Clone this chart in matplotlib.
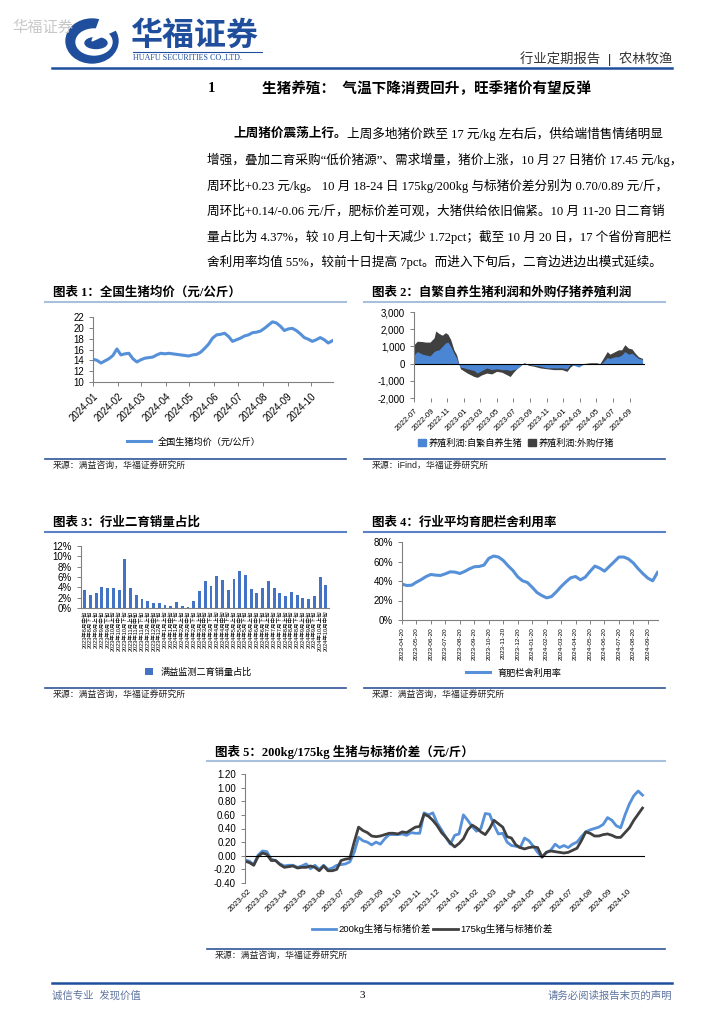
import matplotlib
matplotlib.use('Agg')
import matplotlib.pyplot as plt
import matplotlib.dates as mdates
from matplotlib.lines import Line2D
from matplotlib.patches import Ellipse, Wedge, Patch
from matplotlib.ticker import FuncFormatter, PercentFormatter
import numpy as np
import pandas as pd

plt.rcParams['font.family'] = ['Liberation Sans', 'Noto Sans CJK SC', 'DejaVu Sans']
plt.rcParams['axes.unicode_minus'] = False

########################################
#               Data                   #
########################################

# chart 1: national average hog price, every 5 days from 2024-01-01
pig_price = [14.2, 14.0, 13.5, 13.9, 14.3, 14.9, 16.1, 15.0, 15.2, 15.3,
             14.3, 13.7, 14.1, 14.4, 14.5, 14.6, 15.0, 15.3, 15.2, 15.3,
             15.2, 15.1, 15.0, 14.9, 14.8, 15.0, 15.1, 15.5, 16.2, 17.0,
             18.1, 18.7, 18.8, 19.0, 18.4, 17.5, 17.8, 18.1, 18.5, 18.7,
             19.1, 19.2, 19.4, 19.9, 20.5, 21.1, 20.9, 20.3, 19.5, 19.8,
             19.9, 19.5, 18.9, 18.2, 17.9, 17.5, 17.8, 18.2, 17.8, 17.2, 17.6]

# chart 2: breeding profit (yuan/head)
profit_dates = ['2022-07-01', '2022-07-13', '2022-08-01', '2022-08-13', '2022-08-29',
                '2022-09-13', '2022-09-19', '2022-10-01', '2022-10-13', '2022-10-25',
                '2022-11-03', '2022-11-13', '2022-11-25', '2022-12-05', '2022-12-13',
                '2022-12-19', '2023-01-13', '2023-02-07', '2023-02-19', '2023-03-08',
                '2023-03-26', '2023-04-13', '2023-05-01', '2023-05-20', '2023-06-08',
                '2023-06-20', '2023-07-02', '2023-07-14', '2023-08-02', '2023-08-10',
                '2023-08-27', '2023-09-14', '2023-10-08', '2023-11-02', '2023-11-27',
                '2023-12-27', '2024-01-15', '2024-01-27', '2024-02-09', '2024-02-27',
                '2024-03-15', '2024-04-09', '2024-05-03', '2024-05-15', '2024-05-27',
                '2024-06-11', '2024-06-21', '2024-07-10', '2024-07-22', '2024-08-03',
                '2024-08-15', '2024-08-28', '2024-09-10', '2024-09-22', '2024-10-04',
                '2024-10-19']
profit_self = [500, 700, 550, 500, 450, 700, 750, 800, 1000, 1200,
               1250, 1000, 600, 300, -50, -200, -300, -400, -550, -400,
               -250, -350, -300, -350, -350, -400, -350, -300, -50, 50,
               -50, -100, -150, -250, -250, -250, -300, -50, -100, -200,
               -50, 0, 0, -50, 100, 350, 300, 400, 400, 500,
               700, 550, 600, 450, 300, 250]
profit_buy = [1100, 1300, 1280, 1250, 1250, 1500, 1900, 1750, 1650, 1800,
              1700, 1400, 800, 500, 0, -300, -550, -750, -800, -650,
              -550, -600, -450, -500, -650, -750, -500, -300, -50, 50,
              -100, -150, -250, -300, -350, -350, -450, -200, -50, -100,
              0, 50, 50, 0, 300, 700, 550, 700, 800, 800,
              1100, 900, 850, 600, 400, 300]

# chart 3: share of secondary fattening sales, 10-day periods (%)
resale_share = [3.5, 2.6, 2.9, 4.1, 3.8, 3.9, 3.4, 9.5, 3.9, 2.6,
                1.8, 1.3, 1.0, 1.0, 0.6, 0.45, 1.15, 0.45, 0.15, 1.4,
                3.2, 5.3, 4.3, 6.2, 5.4, 3.4, 5.6, 7.2, 6.4, 3.7,
                3.0, 3.8, 5.3, 3.8, 2.9, 2.3, 3.1, 2.6, 1.9, 1.8,
                2.4, 6.09, 4.37]
xun = ['上旬', '中旬', '下旬']
resale_labels = []
for i in range(len(resale_share)):
    k = i + 1  # first bar is 2023年8月中旬
    month = 8 + k // 3
    year = 2023 + (month - 1) // 12
    month = (month - 1) % 12 + 1
    resale_labels.append(f'{year}年{month}月{xun[k % 3]}')

# chart 4: fattening pen utilisation (%), 10-day points from 2023-04-20
pen_util = [36.7, 35.4, 35.7, 38.8, 41.5, 44.6, 46.7, 46.0, 45.7, 47.4,
            49.4, 49.1, 47.7, 49.8, 52.5, 54.6, 54.9, 56.3, 63.2, 65.6,
            64.6, 61.1, 55.6, 50.8, 44.3, 40.2, 38.5, 33.6, 28.2, 25.1,
            22.7, 24.0, 28.8, 34.3, 39.1, 43.3, 44.6, 41.2, 43.9, 49.8,
            55.3, 53.2, 50.1, 54.9, 59.7, 64.6, 64.6, 62.5, 58.4, 52.5,
            47.4, 42.9, 40.2, 48.8]
pen_ticklabels = ['2023-04-20', '2023-05-20', '2023-06-20', '2023-07-20', '2023-08-20',
                  '2023-09-20', '2023-10-20', '2023-11-20', '2023-12-20', '2024-01-20',
                  '2024-02-20', '2024-03-20', '2024-04-20', '2024-05-20', '2024-06-20',
                  '2024-07-20', '2024-08-20', '2024-09-20']

# chart 5: weekly fat/standard hog spread (yuan/jin) from 2023-01-27
spread_200 = [-0.06, -0.08, -0.13, 0.01, 0.07, 0.06, -0.05, -0.07, -0.12, -0.15,
              -0.14, -0.14, -0.17, -0.15, -0.12, -0.19, -0.14, -0.20, -0.14, -0.20,
              -0.18, -0.14, -0.13, -0.12, -0.09, 0.05, 0.27, 0.22, 0.20, 0.16,
              0.20, 0.17, 0.25, 0.31, 0.31, 0.31, 0.32, 0.30, 0.34, 0.33,
              0.33, 0.63, 0.60, 0.63, 0.48, 0.38, 0.27, 0.17, 0.30, 0.32,
              0.60, 0.52, 0.43, 0.36, 0.40, 0.62, 0.61, 0.45, 0.32, 0.33,
              0.20, 0.15, 0.14, 0.12, 0.26, 0.22, 0.14, 0.05, -0.02, 0.05,
              0.08, 0.17, 0.12, 0.15, 0.12, 0.17, 0.20, 0.28, 0.35, 0.38,
              0.40, 0.42, 0.46, 0.56, 0.52, 0.44, 0.41, 0.60, 0.76, 0.88,
              0.95, 0.89]
spread_175 = [-0.08, -0.10, -0.14, -0.01, 0.04, 0.02, -0.07, -0.07, -0.13, -0.17,
              -0.16, -0.15, -0.18, -0.17, -0.17, -0.15, -0.17, -0.22, -0.15, -0.22,
              -0.22, -0.20, -0.07, -0.05, -0.04, 0.20, 0.42, 0.37, 0.34, 0.29,
              0.28, 0.29, 0.31, 0.33, 0.33, 0.32, 0.35, 0.34, 0.38, 0.42,
              0.43, 0.61, 0.58, 0.52, 0.44, 0.34, 0.27, 0.19, 0.13, 0.18,
              0.25, 0.38, 0.45, 0.41, 0.35, 0.31, 0.40, 0.52, 0.47, 0.42,
              0.28, 0.26, 0.16, 0.12, 0.10, 0.12, 0.13, 0.12, -0.02, 0.05,
              0.07, 0.06, 0.05, 0.04, 0.05, 0.08, 0.11, 0.22, 0.35, 0.33,
              0.29, 0.29, 0.31, 0.32, 0.30, 0.27, 0.27, 0.34, 0.41, 0.52,
              0.61, 0.70]

body_lines = [
    '增强，叠加二育采购“低价猪源”、需求增量，猪价上涨，10 月 27 日猪价 17.45 元/kg，',
    '周环比+0.23 元/kg。 10 月 18-24 日 175kg/200kg 与标猪价差分别为 0.70/0.89 元/斤，',
    '周环比+0.14/-0.06 元/斤，肥标价差可观，大猪供给依旧偏紧。10 月 11-20 日二育销',
    '量占比为 4.37%，较 10 月上旬十天减少 1.72pct；截至 10 月 20 日，17 个省份育肥栏',
    '舍利用率均值 55%，较前十日提高 7pct。而进入下旬后，二育边进边出模式延续。',
]

########################################
#              Helpers                 #
########################################

W, H = 724, 1024
NAVY = '#1f4e9c'
BLUE = '#5590d8'
AREA_BLUE = '#4a86d4'
DARK = '#404040'
BAR_BLUE = '#4472c4'
LIGHT_RULE = '#a9bfdc'
MID_RULE = '#5a82c4'
SRC_RULE = '#2f5597'
SERIF_CJK = ['Liberation Serif', 'Noto Sans CJK SC']
BODY_FS = 9.1

fig = plt.figure(figsize=(W / 100, H / 100), dpi=100)


def put(x, y, s, **kw):
    return fig.text(x / W, 1 - y / H, s, **kw)


def rule(x0, x1, y, color, lw):
    fig.add_artist(Line2D([x0 / W, x1 / W], [1 - y / H] * 2, color=color, lw=lw,
                          transform=fig.transFigure))


def axes_px(l, t, r, b):
    return fig.add_axes([l / W, 1 - b / H, (r - l) / W, (b - t) / H])


def style_axes(ax):
    for s in ['top', 'right']:
        ax.spines[s].set_visible(False)
    for s in ['left', 'bottom']:
        ax.spines[s].set_color('#808080')
        ax.spines[s].set_linewidth(0.8)
    ax.tick_params(colors='#808080', labelcolor='black', width=0.7, length=3)


def chart_frame(x0, x1, title, y_title, y_rule, rule_color, src, y_src_rule):
    put(x0 + 8, y_title, title, fontsize=9, fontweight='bold', family=SERIF_CJK,
        va='center')
    rule(x0, x1, y_rule, rule_color, 1.5)
    rule(x0, x1, y_src_rule, SRC_RULE, 1.2)
    put(x0 + 8, y_src_rule + 6.5, src, fontsize=6.4, va='center', color='#222222')


########################################
#               Header                 #
########################################

put(12, 28, '华福证券', fontsize=11, color='#c8c8c8', va='center')

lax = axes_px(62, 16, 122, 66)
lax.set_xlim(0, 60)
lax.set_ylim(0, 50)
lax.axis('off')
lax.add_patch(Ellipse((30, 25), 52, 44, color=NAVY))
lax.add_patch(Ellipse((32, 24), 36, 26, color='white'))
lax.add_patch(Ellipse((34, 23), 22, 11, color=NAVY))
lax.add_patch(Wedge((30, 25), 34, 25, 70, color='white'))

put(130, 37, '华福证券', fontsize=23, fontweight='bold', color=NAVY, va='center')
rule(133, 262, 52, NAVY, 0.8)
put(133, 58, 'HUAFU SECURITIES CO.,LTD.', fontsize=5.8, color=NAVY, va='center',
    family='Liberation Serif')
put(672, 59, '行业定期报告  |  农林牧渔', fontsize=9.6, color='#333333', ha='right', va='center')
rule(52, 672, 68, NAVY, 1.8)

put(208, 89, '1', fontsize=10.5, fontweight='bold', family=SERIF_CJK, va='center')
put(262, 89, '生猪养殖：  气温下降消费回升，旺季猪价有望反弹', fontsize=10.5,
    fontweight='bold', family=SERIF_CJK, va='center')

# body paragraph
r = fig.canvas.get_renderer()
b = put(233, 134, '上周猪价震荡上行。', fontsize=BODY_FS, fontweight='bold',
        family=SERIF_CJK, va='center')
bx = b.get_window_extent(renderer=r).x1
fig.text(bx / W, 1 - 134 / H, '上周多地猪价跌至 17 元/kg 左右后，供给端惜售情绪明显',
         fontsize=BODY_FS, family=SERIF_CJK, va='center')
for i, line in enumerate(body_lines):
    put(207, 160 + i * 25.6, line, fontsize=BODY_FS, family=SERIF_CJK, va='center')

########################################
#     Chart 1: national hog price      #
########################################

chart_frame(45, 346, '图表 1：全国生猪均价（元/公斤）', 293, 302, LIGHT_RULE,
            '来源：满益咨询，华福证券研究所', 459)
ax1 = axes_px(93, 317, 333, 382)
price_dates = pd.date_range('2024-01-01', periods=len(pig_price), freq='5D')
ax1.plot(price_dates, pig_price, color=BLUE, lw=2.2, label='全国生猪均价（元/公斤）')
ax1.set_ylim(10, 22)
ax1.set_yticks(np.arange(10, 23, 2))
ax1.set_xlim(pd.Timestamp('2024-01-01'), pd.Timestamp('2024-10-28'))
ax1.xaxis.set_major_locator(mdates.MonthLocator())
ax1.xaxis.set_major_formatter(mdates.DateFormatter('%Y-%m'))
style_axes(ax1)
ax1.tick_params(labelsize=7)
for lab in ax1.get_xticklabels():
    lab.set_rotation(45)
    lab.set_ha('right')
    lab.set_rotation_mode('anchor')
ax1.legend(loc='center', bbox_to_anchor=(194 / W, 1 - 442 / H), bbox_transform=fig.transFigure,
           frameon=False, fontsize=6.6, handlelength=2.6)

########################################
#      Chart 2: breeding profit        #
########################################

chart_frame(364, 665, '图表 2：自繁自养生猪利润和外购仔猪养殖利润', 293, 302, LIGHT_RULE,
            '来源：iFind，华福证券研究所', 459)
ax2 = axes_px(414, 312, 645, 398)
pd2 = pd.to_datetime(profit_dates)
ax2.fill_between(pd2, 0, profit_buy, color=DARK, lw=0)
ax2.fill_between(pd2, 0, profit_self, color=AREA_BLUE, lw=0)
ax2.axhline(0, color='black', lw=0.8)
ax2.set_ylim(-2000, 3000)
ax2.set_yticks(np.arange(-2000, 3001, 1000))
ax2.yaxis.set_major_formatter(FuncFormatter(lambda v, p: f'{v:,.0f}'))
ax2.set_xlim(pd.Timestamp('2022-07-01'), pd.Timestamp('2024-10-28'))
ax2.xaxis.set_major_locator(mdates.MonthLocator(bymonth=[1, 3, 5, 7, 9, 11]))
ax2.xaxis.set_major_formatter(mdates.DateFormatter('%Y-%m'))
style_axes(ax2)
ax2.spines['bottom'].set_visible(False)
ax2.tick_params(axis='y', labelsize=7)
ax2.tick_params(axis='x', labelsize=5.6)
for lab in ax2.get_xticklabels():
    lab.set_rotation(45)
    lab.set_ha('right')
    lab.set_rotation_mode('anchor')
h2 = [Patch(color=AREA_BLUE), Patch(color=DARK)]
ax2.legend(h2, ['养殖利润:自繁自养生猪', '养殖利润:外购仔猪'], loc='center', ncol=2,
           bbox_to_anchor=(516 / W, 1 - 443 / H), bbox_transform=fig.transFigure,
           frameon=False, fontsize=6.6, handlelength=0.9, handleheight=0.9,
           handletextpad=0.3, columnspacing=0.6)

########################################
#     Chart 3: resale sales share      #
########################################

chart_frame(45, 346, '图表 3：行业二育销量占比', 523, 532, MID_RULE,
            '来源：满益咨询，华福证券研究所', 688)
ax3 = axes_px(81, 546, 329, 608)
ax3.bar(np.arange(len(resale_share)), resale_share, width=0.5, color=BAR_BLUE,
        label='满益监测二育销量占比')
ax3.set_ylim(0, 12)
ax3.set_yticks(np.arange(0, 13, 2))
ax3.yaxis.set_major_formatter(PercentFormatter(decimals=0))
ax3.set_xlim(-0.63, len(resale_share) - 0.45)
ax3.set_xticks(np.arange(len(resale_share)))
ax3.set_xticklabels(resale_labels, rotation=90, fontsize=4.0)
style_axes(ax3)
ax3.tick_params(axis='y', labelsize=7)
ax3.tick_params(axis='x', length=0, pad=2)
ax3.legend(loc='center', bbox_to_anchor=(198 / W, 1 - 672 / H), bbox_transform=fig.transFigure,
           frameon=False, fontsize=6.6, handlelength=0.9, handleheight=0.9)

########################################
#     Chart 4: pen utilisation         #
########################################

chart_frame(364, 665, '图表 4：行业平均育肥栏舍利用率', 523, 532, MID_RULE,
            '来源：满益咨询，华福证券研究所', 688)
ax4 = axes_px(402, 542, 658, 620)
ax4.plot(np.arange(len(pen_util)), pen_util, color=BLUE, lw=2.2, label='育肥栏舍利用率')
ax4.set_ylim(0, 80)
ax4.set_yticks(np.arange(0, 81, 20))
ax4.yaxis.set_major_formatter(PercentFormatter(decimals=0))
ax4.set_xlim(0, len(pen_util) - 0.9)
ax4.set_xticks(np.arange(0, len(pen_util), 3))
ax4.set_xticklabels(pen_ticklabels, rotation=90, fontsize=4.6)
style_axes(ax4)
ax4.tick_params(axis='y', labelsize=7)
ax4.tick_params(axis='x', pad=2)
ax4.legend(loc='center', bbox_to_anchor=(514 / W, 1 - 673 / H), bbox_transform=fig.transFigure,
           frameon=False, fontsize=6.6, handlelength=2.6)

########################################
#     Chart 5: fat/standard spread     #
########################################

chart_frame(207, 665, '图表 5：200kg/175kg 生猪与标猪价差（元/斤）', 752, 761, LIGHT_RULE,
            '来源：满益咨询，华福证券研究所', 949)
ax5 = axes_px(245, 774, 645, 883)
week_dates = pd.date_range('2023-01-27', periods=len(spread_200), freq='7D')
ax5.plot(week_dates, spread_200, color=BLUE, lw=2, label='200kg生猪与标猪价差')
ax5.plot(week_dates, spread_175, color=DARK, lw=2, label='175kg生猪与标猪价差')
ax5.axhline(0, color='black', lw=0.8)
ax5.set_ylim(-0.4, 1.2)
ax5.set_yticks(np.arange(-0.4, 1.21, 0.2))
ax5.yaxis.set_major_formatter(FuncFormatter(lambda v, p: f'{v:.2f}'))
ax5.set_xlim(pd.Timestamp('2023-01-27'), pd.Timestamp('2024-10-29'))
ax5.xaxis.set_major_locator(mdates.MonthLocator())
ax5.xaxis.set_major_formatter(mdates.DateFormatter('%Y-%m'))
style_axes(ax5)
ax5.spines['bottom'].set_visible(False)
ax5.tick_params(axis='y', labelsize=7)
ax5.tick_params(axis='x', labelsize=5.8, length=0)
for lab in ax5.get_xticklabels():
    lab.set_rotation(45)
    lab.set_ha('right')
    lab.set_rotation_mode('anchor')
ax5.legend(loc='center', ncol=2, bbox_to_anchor=(432 / W, 1 - 929 / H),
           bbox_transform=fig.transFigure, frameon=False, fontsize=6.8,
           handlelength=2.6, handletextpad=0.2, columnspacing=0.3)

########################################
#               Footer                 #
########################################

rule(52, 672, 983, NAVY, 1.8)
put(52, 996, '诚信专业  发现价值', fontsize=7.5, color='#5d73a0', va='center')
put(362, 996, '3', fontsize=8, family='Liberation Serif', ha='center', va='center')
put(672, 996, '请务必阅读报告末页的声明', fontsize=7.5, color='#5d73a0', ha='right', va='center')

fig.savefig('out.png', dpi=100)
